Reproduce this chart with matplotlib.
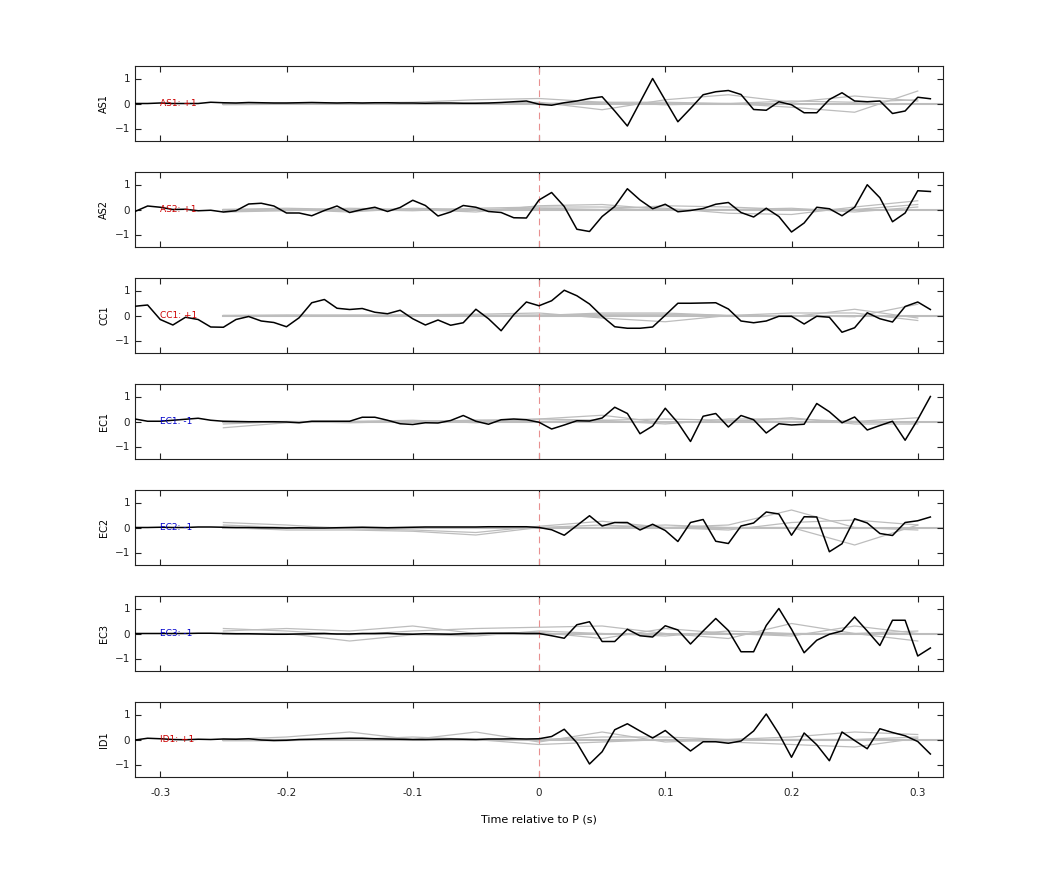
import numpy as np
import matplotlib
matplotlib.use("Agg")
import matplotlib.pyplot as plt

t = np.round(np.arange(-0.32, 0.315, 0.01), 2)  # 64 samples
tg = np.round(np.arange(-0.25, 0.33, 0.05), 2)  # grey curve sample points

channels = ["AS1", "AS2", "CC1", "EC1", "EC2", "EC3", "ID1"]
polarity = ["+1", "+1", "+1", "-1", "-1", "-1", "+1"]

AS1 = [0.0, 0.0, 0.02, 0.0, 0.0, 0.0, 0.05, 0.03, 0.02, 0.04, 0.03, 0.02, 0.02, 0.03, 0.04, 0.03,
       0.02, 0.03, 0.02, 0.03, 0.03, 0.02, 0.02, 0.01, 0.02, 0.02, 0.01, 0.01, 0.02, 0.04, 0.07, 0.1,
       -0.03, -0.07, 0.03, 0.1, 0.2, 0.27, -0.3, -0.9, 0.05, 1.0, 0.13, -0.73, -0.2, 0.35, 0.47, 0.52,
       0.36, -0.24, -0.27, 0.07, -0.05, -0.37, -0.37, 0.16, 0.43, 0.1, 0.07, 0.1, -0.4, -0.3, 0.25, 0.19]
AS2 = [-0.08, 0.14, 0.09, 0.0, 0.01, -0.05, -0.03, -0.1, -0.05, 0.22, 0.25, 0.14, -0.14, -0.14, -0.25, -0.04,
       0.14, -0.12, 0.0, 0.09, -0.08, 0.08, 0.37, 0.16, -0.26, -0.1, 0.16, 0.09, -0.08, -0.12, -0.33, -0.34,
       0.38, 0.68, 0.12, -0.79, -0.88, -0.28, 0.12, 0.83, 0.38, 0.03, 0.21, -0.09, -0.04, 0.04, 0.21, 0.28,
       -0.12, -0.3, 0.05, -0.28, -0.9, -0.54, 0.09, 0.03, -0.25, 0.09, 0.99, 0.47, -0.49, -0.14, 0.75, 0.72]
CC1 = [0.37, 0.42, -0.16, -0.38, -0.07, -0.16, -0.46, -0.47, -0.16, -0.04, -0.22, -0.28, -0.45, -0.09, 0.51,
       0.64, 0.29, 0.24, 0.28, 0.13, 0.07, 0.21, -0.13, -0.38, -0.18, -0.39, -0.29, 0.25, -0.13, -0.61, 0.03,
       0.54, 0.39, 0.59, 1.01, 0.79, 0.46, -0.03, -0.45, -0.51, -0.51, -0.46, 0.01, 0.49, 0.49, 0.5, 0.51,
       0.26, -0.22, -0.29, -0.22, -0.03, -0.03, -0.34, -0.03, -0.07, -0.67, -0.49, 0.11, -0.13, -0.26, 0.36,
       0.54, 0.24]
EC1 = [0.1, 0.01, 0.01, 0.05, 0.09, 0.13, 0.05, 0.01, 0.0, -0.01, -0.01, -0.01, -0.02, -0.05, 0.01, 0.01,
       0.01, 0.01, 0.17, 0.17, 0.05, -0.09, -0.12, -0.05, -0.06, 0.04, 0.24, 0.01, -0.11, 0.07, 0.1, 0.07,
       -0.03, -0.3, -0.14, 0.03, 0.02, 0.14, 0.57, 0.32, -0.49, -0.18, 0.53, -0.05, -0.8, 0.21, 0.32, -0.22,
       0.24, 0.07, -0.46, -0.09, -0.14, -0.11, 0.72, 0.39, -0.05, 0.18, -0.34, -0.16, 0.01, -0.75, 0.08, 1.0]
EC2 = [0.0, 0.0, 0.01, 0.0, 0.0, 0.02, 0.02, 0.01, 0.0, 0.0, -0.01, -0.01, -0.02, -0.01, -0.02, -0.02,
       -0.01, 0.0, 0.01, 0.0, -0.01, 0.0, 0.01, 0.02, 0.02, 0.02, 0.02, 0.02, 0.03, 0.03, 0.03, 0.03,
       0.0, -0.09, -0.31, 0.08, 0.47, 0.06, 0.2, 0.2, -0.1, 0.13, -0.12, -0.56, 0.2, 0.32, -0.55, -0.64,
       0.06, 0.18, 0.62, 0.54, -0.31, 0.43, 0.42, -0.97, -0.65, 0.35, 0.18, -0.24, -0.32, 0.2, 0.27, 0.42]
EC3 = [0.0, 0.0, 0.0, 0.0, 0.0, 0.01, 0.01, 0.0, -0.01, -0.01, -0.02, -0.03, -0.03, -0.02, -0.01, 0.0,
       -0.02, -0.02, 0.0, 0.0, 0.01, -0.02, -0.03, -0.01, -0.02, -0.03, -0.01, 0.0, 0.01, 0.01, 0.01, 0.0,
       0.0, -0.09, -0.19, 0.35, 0.47, -0.32, -0.32, 0.17, -0.09, -0.14, 0.31, 0.14, -0.42, 0.1, 0.6, 0.12,
       -0.73, -0.73, 0.32, 1.0, 0.17, -0.77, -0.27, -0.03, 0.1, 0.66, 0.1, -0.48, 0.53, 0.53, -0.9, -0.58]
ID1 = [-0.02, 0.05, 0.03, 0.0, -0.01, 0.01, 0.0, 0.02, 0.01, 0.03, -0.02, -0.04, -0.03, 0.0, 0.01, 0.03,
       0.04, 0.05, 0.05, 0.03, 0.02, 0.01, 0.0, 0.0, 0.01, 0.02, 0.01, 0.0, 0.02, 0.02, 0.03, 0.02,
       0.03, 0.12, 0.41, -0.13, -0.98, -0.49, 0.39, 0.63, 0.34, 0.06, 0.36, -0.06, -0.46, -0.09, -0.09, -0.15,
       -0.06, 0.34, 1.02, 0.23, -0.71, 0.26, -0.21, -0.85, 0.3, -0.04, -0.37, 0.43, 0.28, 0.15, -0.08, -0.58]
black = [AS1, AS2, CC1, EC1, EC2, EC3, ID1]

# grey reference traces sampled every 0.05 s from -0.25 s
grey = {
    "AS1": [[-0.05, -0.03, -0.02, -0.03, 0.0, 0.05, -0.25, 0.15, 0.35, 0.05, 0.3, 0.1],
            [0.0, 0.0, 0.02, 0.05, 0.15, 0.2, 0.05, -0.05, 0.0, -0.15, -0.35, 0.5],
            [0.0, 0.02, 0.0, 0.0, 0.0, 0.0, 0.05, 0.05, 0.0, 0.1, 0.05, 0.15]],
    "AS2": [[0.0, 0.05, 0.0, -0.05, 0.05, 0.1, 0.1, 0.05, -0.15, -0.2, 0.1, 0.35],
            [-0.1, -0.05, 0.05, 0.0, -0.1, 0.15, 0.2, 0.0, 0.0, 0.05, -0.1, 0.1],
            [0.0, 0.0, -0.1, 0.05, 0.0, 0.05, 0.0, 0.15, 0.1, 0.0, 0.0, 0.2]],
    "CC1": [[0.0, 0.02, 0.0, 0.03, 0.05, 0.1, -0.1, -0.25, 0.0, 0.1, 0.1, -0.2],
            [-0.02, 0.0, 0.02, 0.0, 0.0, 0.0, 0.1, 0.1, 0.0, -0.05, 0.25, -0.1],
            [0.0, 0.0, 0.0, 0.0, 0.0, 0.02, 0.05, 0.05, 0.0, 0.0, -0.05, 0.45]],
    "EC1": [[-0.25, -0.05, 0.0, 0.05, -0.05, 0.1, 0.25, -0.05, 0.0, 0.15, -0.1, -0.1],
            [-0.1, 0.0, -0.05, 0.0, 0.05, 0.1, 0.05, -0.1, 0.1, 0.1, 0.0, 0.15],
            [0.0, 0.0, 0.0, 0.0, 0.05, 0.0, 0.05, 0.1, 0.05, 0.0, 0.0, -0.05]],
    "EC2": [[0.2, 0.1, -0.05, -0.1, -0.2, 0.05, 0.25, 0.0, 0.1, 0.7, 0.0, -0.1],
            [0.0, -0.1, -0.1, -0.15, -0.3, 0.0, 0.0, 0.1, 0.0, 0.0, -0.7, 0.1],
            [0.1, 0.0, 0.0, 0.0, 0.0, 0.0, 0.1, 0.0, -0.1, 0.2, 0.3, 0.1]],
    "EC3": [[0.2, 0.1, -0.05, 0.1, 0.2, 0.25, 0.3, 0.0, -0.2, 0.4, 0.0, -0.3],
            [0.1, 0.2, 0.1, 0.3, 0.0, 0.05, -0.2, 0.2, 0.0, -0.1, 0.3, 0.0],
            [0.0, 0.0, -0.3, -0.05, -0.1, 0.1, 0.0, -0.1, 0.1, 0.0, 0.0, 0.1]],
    "ID1": [[0.0, 0.1, 0.3, 0.0, 0.3, -0.1, 0.3, -0.1, 0.0, 0.0, 0.0, 0.1],
            [-0.05, -0.05, 0.05, 0.0, 0.0, -0.2, -0.1, 0.0, -0.1, -0.2, -0.3, 0.05],
            [0.0, 0.0, 0.0, 0.1, 0.0, 0.0, 0.1, 0.1, 0.0, 0.1, 0.3, 0.2]],
}

W, H = 1042, 875
fig = plt.figure(figsize=(W / 100, H / 100), dpi=100)
left, right = 135 / W, 943 / W
tops = [66, 172, 278, 384, 490, 596, 702]
ph = 75
for i, ch in enumerate(channels):
    ax = fig.add_axes([left, 1 - (tops[i] + ph) / H, right - left, ph / H])
    for g in grey[ch]:
        ax.plot(tg, g, color="#bdbdbd", lw=0.9, zorder=1)
    ax.plot([tg[0], 0.32], [0, 0], color="#bdbdbd", lw=1.5, zorder=1)
    ax.axvline(0, color="#e89090", lw=0.8, ls=(0, (6, 4)), zorder=2)
    ax.plot(t, black[i], color="black", lw=1.1, zorder=3)
    col = "#cc0000" if polarity[i] == "+1" else "#0000cc"
    ax.text(-0.3, 0, f"{ch}: {polarity[i]}", color=col, fontsize=6.5, va="center", ha="left", zorder=4)
    ax.set_xlim(-0.32, 0.32)
    ax.set_ylim(-1.5, 1.5)
    ax.set_yticks([-1, 0, 1])
    ax.set_xticks([-0.3, -0.2, -0.1, 0, 0.1, 0.2, 0.3])
    ax.tick_params(direction="in", top=True, right=True, labelsize=7.5, length=4, colors="#222222")
    for s in ax.spines.values():
        s.set_color("#222222")
    ax.set_ylabel(ch, fontsize=7)
    if i < len(channels) - 1:
        ax.set_xticklabels([])
    else:
        ax.tick_params(axis="x", pad=8)
        ax.set_xticklabels(["-0.3", "-0.2", "-0.1", "0", "0.1", "0.2", "0.3"])
        ax.set_xlabel("Time relative to P (s)", fontsize=8, labelpad=12)
fig.savefig("out.png", dpi=100)
